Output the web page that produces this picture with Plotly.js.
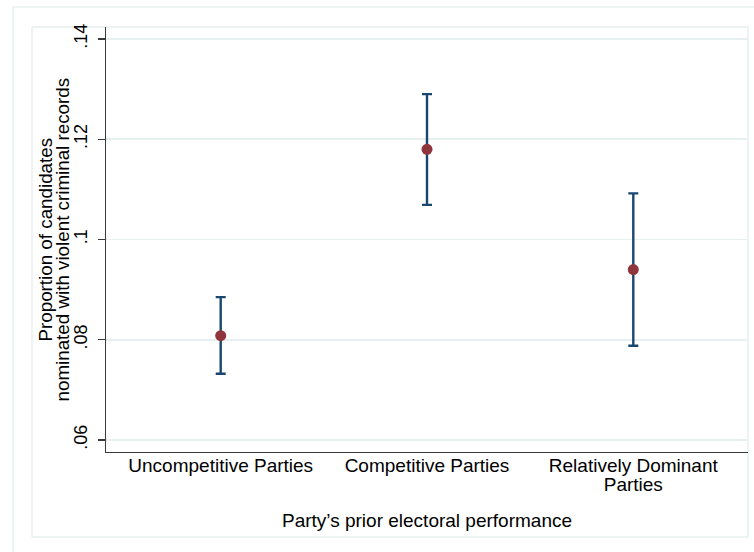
<!DOCTYPE html>
<html>
<head>
<meta charset="utf-8">
<script src="https://cdn.plot.ly/plotly-3.0.1.min.js"></script>
<style>
  html, body { margin: 0; padding: 0; background: #ffffff; }
  #chart { width: 754px; height: 552px; }
</style>
</head>
<body>
<div id="chart"></div>
<script>
// Party groups by prior electoral performance
const categories = [
  "Uncompetitive Parties",
  "Competitive Parties",
  "Relatively Dominant<br>Parties"
];
// Share of nominees with violent criminal records, with 95% CI bounds
const estimates = [0.0808, 0.1180, 0.0940];
const lowerCI   = [0.0732, 0.1069, 0.0788];
const upperCI   = [0.0885, 0.1290, 0.1092];
const yTickVals = [0.06, 0.08, 0.10, 0.12, 0.14];
const yTickText = [".06", ".08", ".1", ".12", ".14"];
const yTitleLines = [
  "Proportion of candidates",
  "nominated with violent criminal records"
];
const xTitle = "Party\u2019s prior electoral performance";

const FONT = "Liberation Sans, Arial, Helvetica, sans-serif";
const FRAME = "#e8eff0";
const AXIS = "#3a3a3a";
const TICK_LINE_GAP = 1.0; // em between lines of a wrapped category label

const trace = {
  type: "scatter",
  mode: "markers",
  x: categories,
  y: estimates,
  marker: { color: "#90353b", size: 11 },
  error_y: {
    type: "data",
    symmetric: false,
    array: upperCI.map((u, i) => u - estimates[i]),
    arrayminus: estimates.map((e, i) => e - lowerCI[i]),
    color: "#1a476f",
    thickness: 2.4,
    width: 5
  },
  hoverinfo: "x+y",
  showlegend: false
};

// The two-line y title is set as two rotated annotations so the
// line spacing stays tight.
const yTitleAnnotations = yTitleLines.map((txt, i) => ({
  text: txt,
  xref: "paper", yref: "paper",
  x: i === 0 ? -0.0950 : -0.0670,
  y: 0.5,
  xanchor: "center", yanchor: "middle",
  textangle: -90,
  showarrow: false,
  font: { family: FONT, size: 18.8, color: "#000000" }
}));

const layout = {
  width: 754,
  height: 552,
  paper_bgcolor: "#ffffff",
  plot_bgcolor: "#ffffff",
  font: { family: FONT, color: "#000000", size: 18 },
  margin: { l: 106, r: 6, t: 27, b: 100, pad: 0 },
  showlegend: false,
  xaxis: {
    type: "category",
    range: [-0.556, 2.556],
    showgrid: false,
    zeroline: false,
    showline: true,
    linecolor: AXIS,
    linewidth: 1.2,
    ticks: "",
    ticklabelstandoff: -4,
    tickfont: { family: FONT, size: 19, color: "#000000" },
    title: {
      text: xTitle,
      font: { family: FONT, size: 19, color: "#000000" },
      standoff: 14
    },
    automargin: false,
    fixedrange: true
  },
  yaxis: {
    range: [0.0576, 0.1424],
    tickvals: yTickVals,
    ticktext: yTickText,
    tickangle: -90,
    ticks: "outside",
    ticklen: 7,
    tickwidth: 1.2,
    tickcolor: AXIS,
    ticklabelstandoff: 4,
    tickfont: { family: FONT, size: 18, color: "#000000" },
    showgrid: true,
    gridcolor: FRAME,
    gridwidth: 1.6,
    zeroline: false,
    showline: true,
    linecolor: AXIS,
    linewidth: 1.2,
    automargin: false,
    fixedrange: true
  },
  annotations: yTitleAnnotations,
  shapes: [
    // outer graph-region outline
    { type: "rect", xref: "paper", yref: "paper",
      x0: -0.1449, x1: 1.02, y0: -0.26, y1: 1.047,
      line: { color: FRAME, width: 1.5 }, fillcolor: "rgba(0,0,0,0)", layer: "below" },
    // inner plot-region outline
    { type: "rect", xref: "paper", yref: "paper",
      x0: -0.1153, x1: 1.0, y0: -0.2, y1: 1.0,
      line: { color: FRAME, width: 1.5 }, fillcolor: "rgba(0,0,0,0)", layer: "below" }
  ]
};

Plotly.newPlot("chart", [trace], layout, { displayModeBar: false, staticPlot: true })
  .then(gd => {
    // tighten the leading of wrapped category labels
    gd.querySelectorAll(".xtick text").forEach(t => {
      t.querySelectorAll("tspan.line").forEach((ln, i) => {
        ln.setAttribute("dy", (i * TICK_LINE_GAP) + "em");
      });
    });
  });
</script>
</body>
</html>
